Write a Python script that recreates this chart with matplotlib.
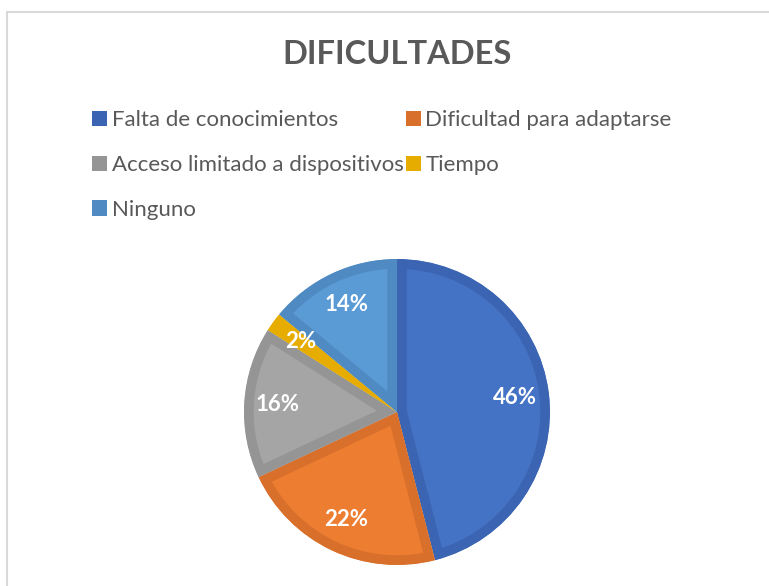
import matplotlib
matplotlib.use("Agg")
from matplotlib import pyplot as plt
from matplotlib.patches import Patch, Rectangle, Wedge

plt.rcParams['font.family'] = ['Lato', 'DejaVu Sans']

# data
labels = ['Falta de conocimientos', 'Dificultad para adaptarse',
          'Acceso limitado a dispositivos', 'Tiempo', 'Ninguno']
values = [46, 22, 16, 2, 14]
fills = ['#4472C4', '#ED7D31', '#A5A5A5', '#FFC000', '#5B9BD5']
edges = ['#3B65B3', '#D8702B', '#959595', '#E6AD00', '#4F8AC2']
title = 'DIFICULTADES'

W, H = 769, 586
fig = plt.figure(figsize=(W / 100, H / 100), dpi=100)

# chart area border (cut off on the right and bottom)
fig.patches.append(Rectangle((7 / W, -0.1), 1.2, (H - 12) / H + 0.1,
                             transform=fig.transFigure, fill=False,
                             edgecolor='#D9D9D9', linewidth=1.5))

# pie axes
cx, cy, r = 397, 412, 153
pad = 1.02
ax = fig.add_axes([(cx - r * pad) / W, (H - cy - r * pad) / H,
                   2 * r * pad / W, 2 * r * pad / H])
wedges, texts, autotexts = ax.pie(values, colors=fills, startangle=90,
                                  counterclock=False, autopct='%1.0f%%',
                                  pctdistance=0.78,
                                  textprops=dict(color='white', fontsize=16,
                                                 fontweight='bold'))
ax.set_xlim(-pad, pad)
ax.set_ylim(-pad, pad)
ax.set_aspect('equal')
ax.axis('off')

# inner darker border: wide stroke clipped to the wedge itself
for w, ec in zip(wedges, edges):
    clip = Wedge(w.center, w.r, w.theta1, w.theta2, transform=ax.transData)
    w.set_edgecolor(ec)
    w.set_linewidth(14)
    w.set_joinstyle('miter')
    w.set_clip_on(True)
    w.set_clip_path(clip)

fig.text(cx / W, 1 - 55 / H, title, ha='center', va='center',
         fontsize=23.5, fontweight='bold', color='#595959')

# legend, row-major like the original
order = [0, 2, 4, 1, 3]
handles = [Patch(facecolor=edges[i], edgecolor='none') for i in order]
leg = fig.legend(handles, [labels[i] for i in order], ncol=2,
                 loc='upper left', bbox_to_anchor=(81 / W, 1 - 99 / H),
                 frameon=False, fontsize=16, labelcolor='#595959',
                 handlelength=0.68, handleheight=0.68, handletextpad=0.2,
                 columnspacing=0.1, labelspacing=1.12, borderpad=0)

fig.savefig('out.png', dpi=100)
